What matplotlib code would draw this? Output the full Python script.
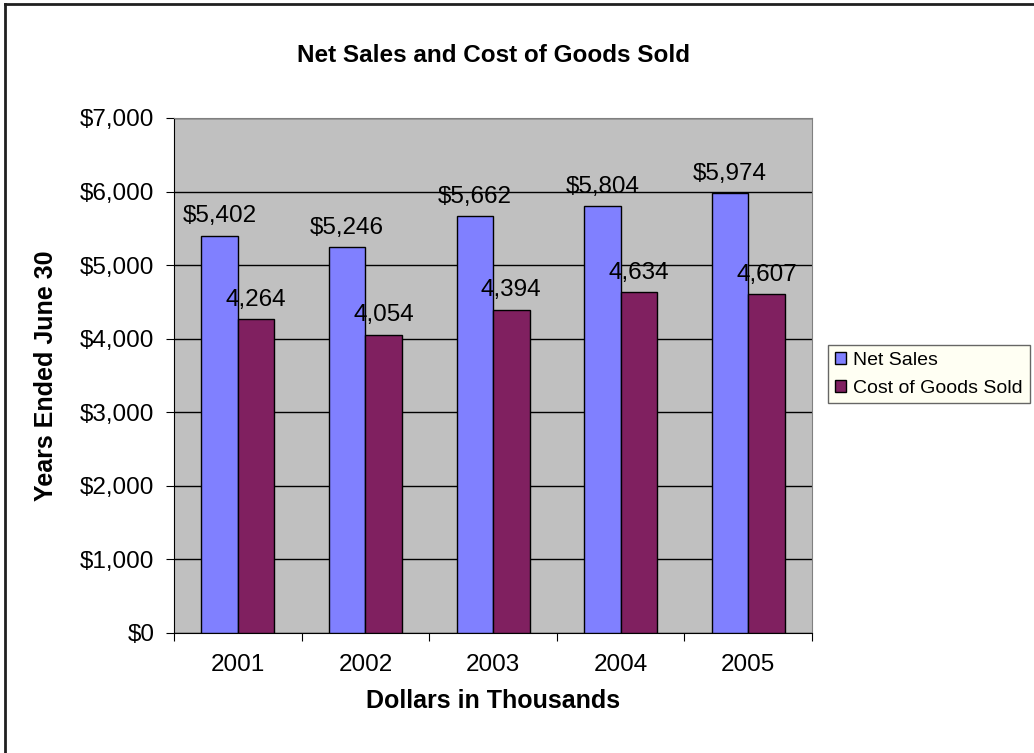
import matplotlib
matplotlib.use("Agg")
import matplotlib.pyplot as plt
import numpy as np
from matplotlib.lines import Line2D

plt.rcParams["font.family"] = ["Liberation Sans", "DejaVu Sans"]

# Dados (milhares de dólares)
anos = ["2001", "2002", "2003", "2004", "2005"]
vendas_liquidas = [5402, 5246, 5662, 5804, 5974]
custo_mercadorias = [4264, 4054, 4394, 4634, 4607]
rotulos_vendas = ["$5,402", "$5,246", "$5,662", "$5,804", "$5,974"]
rotulos_custo = ["4,264", "4,054", "4,394", "4,634", "4,607"]

fig = plt.figure(figsize=(10.34, 7.53), dpi=100)
ax = fig.add_axes([0.1683, 0.1594, 0.6170, 0.6839])
ax.set_facecolor("#C0C0C0")

x = np.arange(len(anos))
larg = 0.286
b1 = ax.bar(x - larg / 2, vendas_liquidas, larg, color="#8080FF",
            edgecolor="black", linewidth=1, label="Net Sales", zorder=3)
b2 = ax.bar(x + larg / 2, custo_mercadorias, larg, color="#802060",
            edgecolor="black", linewidth=1, label="Cost of Goods Sold", zorder=3)

for i in range(len(anos)):
    ax.text(x[i] - larg / 2, vendas_liquidas[i] + 180, rotulos_vendas[i],
            ha="center", va="baseline", fontsize=17.5, zorder=4)
    ax.text(x[i] + larg / 2, custo_mercadorias[i] + 180, rotulos_custo[i],
            ha="center", va="baseline", fontsize=17.5, zorder=4)

ax.set_xlim(-0.5, len(anos) - 0.5)
ax.set_ylim(0, 7000)
ax.set_yticks(np.arange(0, 7001, 1000))
ax.set_yticklabels(["${:,}".format(v) for v in range(0, 7001, 1000)], fontsize=17.5)
ax.yaxis.grid(True, color="black", linewidth=1, zorder=1)
ax.set_axisbelow(True)

# ticks do eixo x nas divisões entre categorias, rótulos no centro
ax.set_xticks(np.arange(-0.5, len(anos)), minor=False)
ax.set_xticklabels([])
ax.set_xticks(x, minor=True)
ax.set_xticklabels(anos, minor=True, fontsize=17.5)
ax.tick_params(axis="x", which="minor", length=0, pad=15)
ax.tick_params(axis="x", which="major", length=6, direction="out")
ax.tick_params(axis="y", length=6, direction="out", pad=8)

for lado in ["top", "right"]:
    ax.spines[lado].set_color("#808080")
ax.spines["left"].set_color("black")
ax.spines["bottom"].set_color("black")

ax.set_title("Net Sales and Cost of Goods Sold", fontsize=17.5, fontweight="bold", pad=40)
ax.set_xlabel("Dollars in Thousands", fontsize=18, fontweight="bold", labelpad=9.5)
ax.set_ylabel("Years Ended June 30", fontsize=18, fontweight="bold", labelpad=16)

leg = fig.legend(handles=[b1, b2], loc="upper left", bbox_to_anchor=(828 / 1034, 1 - 345 / 753),
                 fontsize=14, frameon=True, fancybox=False, handlelength=0.6, handleheight=0.6,
                 handletextpad=0.35, borderpad=0.35, labelspacing=0.55, borderaxespad=0)
leg.get_frame().set_facecolor("#FFFFF0")
leg.get_frame().set_edgecolor("#404040")
leg.get_frame().set_linewidth(1)

# moldura externa (só topo e esquerda aparecem)
fig.add_artist(Line2D([5 / 1034, 5 / 1034], [0, 1 - 4 / 753], transform=fig.transFigure,
                      color="#202020", linewidth=2))
fig.add_artist(Line2D([5 / 1034, 1], [1 - 4 / 753, 1 - 4 / 753], transform=fig.transFigure,
                      color="#202020", linewidth=2))

fig.savefig("out.png", dpi=100)
